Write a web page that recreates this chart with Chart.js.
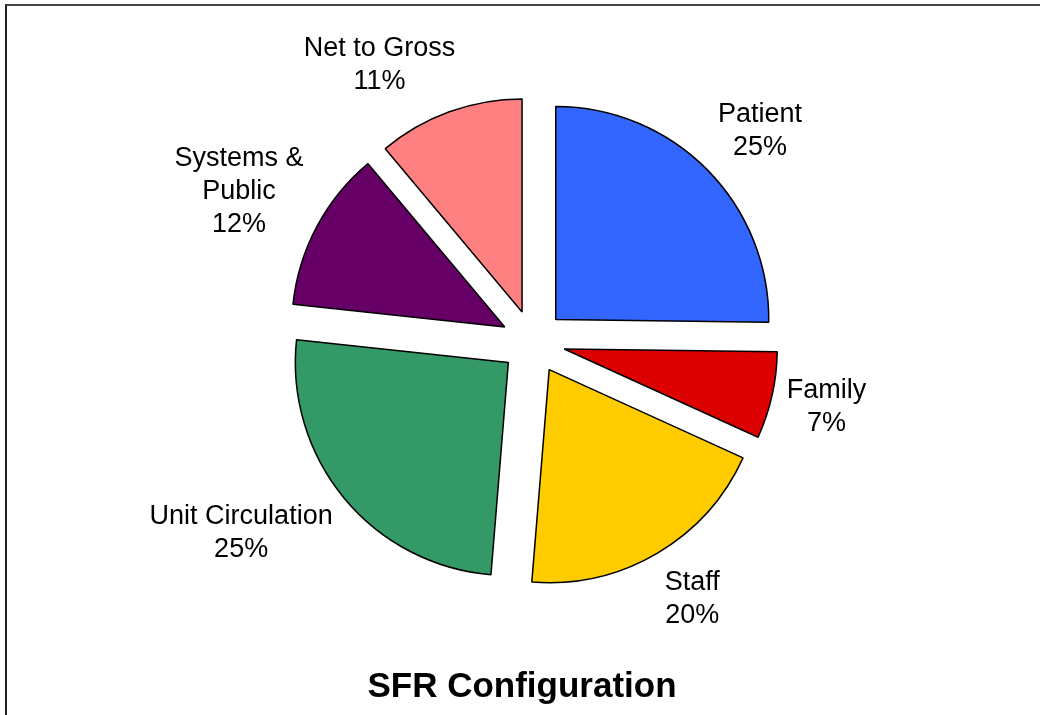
<!DOCTYPE html>
<html>
<head>
<meta charset="utf-8">
<title>SFR Configuration</title>
<script src="https://cdn.jsdelivr.net/npm/chart.js@4.4.1/dist/chart.umd.min.js"></script>
<style>
    html, body { margin: 0; padding: 0; background: #fff; }
    #wrap { position: relative; width: 1040px; height: 715px; overflow: hidden; }
    #frame {
        position: absolute; left: 5px; top: 4px; width: 1100px; height: 800px;
        border-top: 2px solid #444; border-left: 2px solid #222;
        pointer-events: none;
    }
</style>
</head>
<body>
<div id="wrap">
    <canvas id="sfrChart" width="1040" height="715"></canvas>
    <div id="frame"></div>
</div>
<script>
// kategorier, medurs från klockan tolv
const categories = ["Patient", "Family", "Staff", "Unit Circulation", ["Systems &", "Public"], "Net to Gross"];
// andel i procent (avläst från bitarnas vinklar)
const shares = [25.2, 6.6, 19.5, 25.4, 12.2, 11.1];
const sliceColors = ["#3366FF", "#DD0000", "#FFCC00", "#339966", "#660066", "#FF8080"];
const chartTitle = "SFR Configuration";

const explodePx = 32;   // hur långt varje bit skjuts ut
const labelFont = '27px "Liberation Sans", Arial, sans-serif';
const lineHeight = 33;
const clamp = v => Math.max(-1, Math.min(1, v));

const midAngle = p => (p.startAngle + p.endAngle) / 2;

// skjuter ut varje bit lika långt (Chart.js egen offset ändrar även radien på smala bitar)
const explode = {
    id: 'explode',
    beforeDatasetsDraw(chart) {
        const ctx = chart.ctx;
        chart.getDatasetMeta(0).data.forEach(arc => {
            const mid = midAngle(arc.getProps(['startAngle', 'endAngle'], true));
            ctx.save();
            ctx.translate(Math.cos(mid) * explodePx, Math.sin(mid) * explodePx);
            arc.draw(ctx, chart.chartArea);
            ctx.restore();
        });
        return false;
    }
};

// ritar etiketter utanför varje tårtbit samt rubriken längst ner
const outsideLabels = {
    id: 'outsideLabels',
    afterDraw(chart) {
        const ctx = chart.ctx;
        const meta = chart.getDatasetMeta(0);
        const ds = chart.data.datasets[0];
        const total = ds.data.reduce((a, b) => a + b, 0);
        ctx.save();
        ctx.font = labelFont;
        ctx.fillStyle = '#000';
        ctx.textAlign = 'center';
        ctx.textBaseline = 'middle';
        meta.data.forEach((arc, i) => {
            const p = arc.getProps(['x', 'y', 'startAngle', 'endAngle', 'outerRadius'], true);
            const mid = midAngle(p);
            const dx = Math.cos(mid), dy = Math.sin(mid);
            const name = chart.data.labels[i];
            const lines = (Array.isArray(name) ? name.slice() : [name]);
            lines.push(Math.round(ds.data[i] / total * 100) + '%');
            const halfW = Math.max(...lines.map(l => ctx.measureText(l).width)) / 2;
            const halfH = lines.length * lineHeight / 2;
            const dist = p.outerRadius + explodePx + 15;
            const cx = p.x + dx * dist + clamp(dx * 2.5) * halfW;
            const cy = p.y + dy * dist + clamp(dy * 1.2) * halfH;
            lines.forEach((l, k) => {
                ctx.fillText(l, cx, cy - halfH + lineHeight * (k + 0.5));
            });
        });
        ctx.font = 'bold 35px "Liberation Sans", Arial, sans-serif';
        ctx.textBaseline = 'alphabetic';
        ctx.fillText(chartTitle, 522, 697);
        ctx.restore();
    }
};

new Chart(document.getElementById('sfrChart'), {
    type: 'pie',
    data: {
        labels: categories,
        datasets: [{
            data: shares,
            backgroundColor: sliceColors,
            borderColor: '#000',
            borderWidth: 1.5,
            offset: 0,
            hoverOffset: 0
        }]
    },
    options: {
        responsive: false,
        animation: false,
        radius: 213,
        layout: { padding: { left: 46, right: 20, top: 20, bottom: 51 } },
        plugins: {
            legend: { display: false },
            tooltip: { enabled: false }
        }
    },
    plugins: [explode, outsideLabels]
});
</script>
</body>
</html>
